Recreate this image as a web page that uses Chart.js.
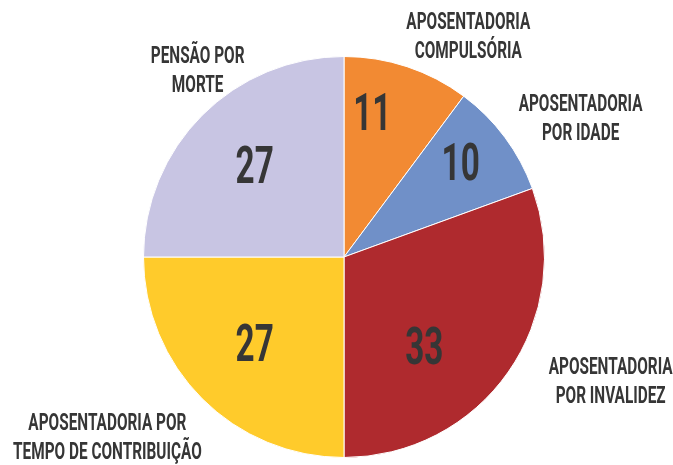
<!DOCTYPE html>
<html>
<head>
<meta charset="utf-8">
<script src="https://cdn.jsdelivr.net/npm/chart.js@4"></script>
<style>
  html, body { margin: 0; padding: 0; background: #fff; }
  #wrap { width: 673px; height: 465px; }
</style>
</head>
<body>
<div id="wrap"><canvas id="g_pie"></canvas></div>
<script>
// dados
const categorias = [
    ["APOSENTADORIA", "COMPULSÓRIA"],
    ["APOSENTADORIA", "POR IDADE"],
    ["APOSENTADORIA", "POR INVALIDEZ"],
    ["APOSENTADORIA POR", "TEMPO DE CONTRIBUIÇÃO"],
    ["PENSÃO POR", "MORTE"]
]
const valores = [11, 10, 33, 27, 27]
const cores = ["#F28A33", "#7090C8", "#AF2A2E", "#FFCB2B", "#C8C5E3"]

// posicao dos textos (em unidades do raio, relativo ao centro)
const pos_categoria = [[0.62, -1.10], [1.18, -0.69], [1.33, 0.62], [-1.18, 0.90], [-0.73, -0.93]]
const raio_valor = [0.72, 0.74, 0.61, 0.63, 0.63]
const desvio_valor = [-7, -1.5, 14, 0, 0] // graus

const TXT = "#363636"
const FONTE = "Roboto, 'DejaVu Sans', sans-serif"
const ESTREITO = 0.64

function textoEstreito(ctx, txt, x, y, size) {
    ctx.save()
    ctx.translate(x, y)
    ctx.scale(ESTREITO, 1)
    ctx.font = "bold " + size + "px " + FONTE
    ctx.fillStyle = TXT
    ctx.textAlign = "center"
    ctx.textBaseline = "middle"
    ctx.fillText(txt, 0, 0)
    ctx.restore()
}

const rotulos = {
    id: "rotulos",
    afterDatasetsDraw(chart) {
        const ctx = chart.ctx
        const arcs = chart.getDatasetMeta(0).data
        arcs.forEach((arc, i) => {
            const r = arc.outerRadius
            const mid = (arc.startAngle + arc.endAngle) / 2 + desvio_valor[i] * Math.PI / 180
            const vx = arc.x + Math.cos(mid) * r * raio_valor[i]
            const vy = arc.y + Math.sin(mid) * r * raio_valor[i]
            textoEstreito(ctx, String(valores[i]), vx, vy + 2, 52)

            const cx = arc.x + pos_categoria[i][0] * r
            const cy = arc.y + pos_categoria[i][1] * r
            const linhas = categorias[i]
            linhas.forEach((l, k) => {
                textoEstreito(ctx, l, cx, cy + (k - (linhas.length - 1) / 2) * 29 + 1, 24)
            })
        })
    }
}

new Chart(document.getElementById("g_pie"), {
    type: "pie",
    data: {
        labels: categorias.map(c => c.join(" ")),
        datasets: [{
            data: valores,
            backgroundColor: cores,
            borderColor: "#ffffff",
            borderWidth: 1
        }]
    },
    options: {
        responsive: true,
        maintainAspectRatio: false,
        animation: false,
        events: [],
        layout: {
            padding: { top: 56, bottom: 7, left: 143, right: 128 }
        },
        plugins: {
            legend: { display: false },
            tooltip: { enabled: false }
        }
    },
    plugins: [rotulos]
})
</script>
</body>
</html>
